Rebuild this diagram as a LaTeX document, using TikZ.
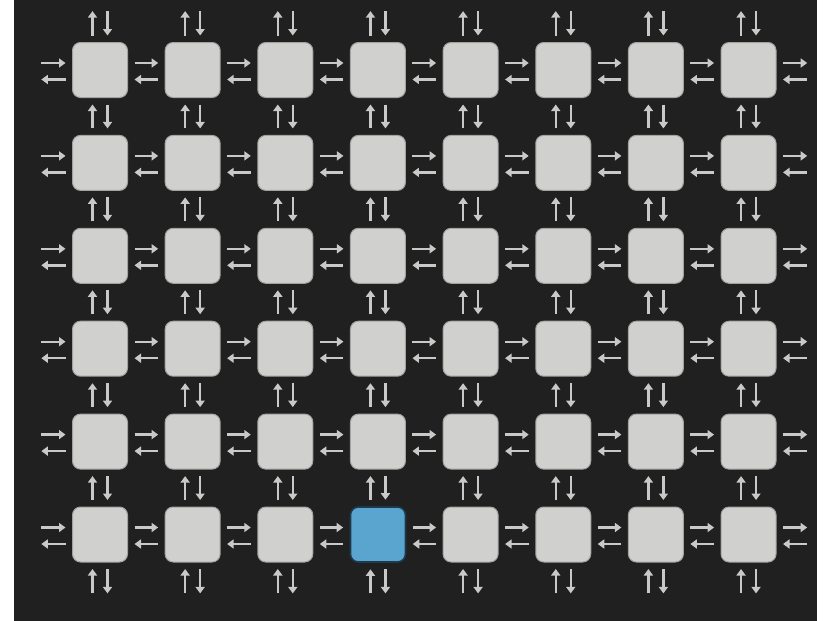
\documentclass[tikz,border=0pt]{standalone}
\usepackage{xcolor}
\usetikzlibrary{arrows.meta}
\definecolor{board}{HTML}{1F201F}
\definecolor{tilefill}{HTML}{D0D0CE}
\definecolor{tileedge}{HTML}{A2A2A0}
\definecolor{hotfill}{HTML}{5AA5D0}
\definecolor{hotedge}{HTML}{1E3A4E}
\definecolor{wire}{HTML}{C9C9C7}
\tikzset{
  % A router tile of the mesh
  tile/.style={
    draw=tileedge, fill=tilefill, line width=1pt, rounded corners=8pt,
    minimum width=55pt, minimum height=55pt, inner sep=0pt},
  % The highlighted tile
  hot/.style={tile, fill=hotfill, draw=hotedge, line width=1.6pt},
  % One direction of a link
  link/.style={-{Triangle[length=6.5pt, width=9pt]}, draw=wire, line width=2.4pt,
    shorten <=6.5pt, shorten >=6.5pt},
}

\begin{document}
\begin{tikzpicture}[x=1pt, y=-1pt]

  \useasboundingbox (0,0) rectangle (823,621);
  \fill[board] (14,0) rectangle (817,621);

  % tiles
  \foreach \i in {1,...,8} {
    \foreach \j in {1,...,6} {
      \ifnum\i\j=46 \def\kind{hot}\else\def\kind{tile}\fi
      \node[\kind] (c-\i-\j) at ({100+92.65*(\i-1)}, {70+92.9*(\j-1)}) {};
    }
  }

  % free ends at the border of the mesh
  \foreach \j in {1,...,6} {
    \coordinate (c-0-\j) at ({100-92.65+27.5}, {70+92.9*(\j-1)});
    \coordinate (c-9-\j) at ({100+92.65*8-27.5}, {70+92.9*(\j-1)});
  }
  \foreach \i in {1,...,8} {
    \coordinate (c-\i-0) at ({100+92.65*(\i-1)}, {70-92.9+27.5});
    \coordinate (c-\i-7) at ({100+92.65*(\i-1)}, {70+92.9*6-27.5});
  }

  % east / west links
  \foreach \i [evaluate=\i as \k using int(\i+1)] in {0,...,8} {
    \foreach \j in {1,...,6} {
      \draw[link] ([yshift=7pt]c-\i-\j.east) -- ([yshift=7pt]c-\k-\j.west);
      \draw[link] ([yshift=-9.5pt]c-\k-\j.west) -- ([yshift=-9.5pt]c-\i-\j.east);
    }
  }

  % north / south links
  \foreach \i in {1,...,8} {
    \foreach \j [evaluate=\j as \k using int(\j+1)] in {0,...,6} {
      \draw[link] ([xshift=-7.5pt]c-\i-\k.north) -- ([xshift=-7.5pt]c-\i-\j.south);
      \draw[link] ([xshift=7.5pt]c-\i-\j.south) -- ([xshift=7.5pt]c-\i-\k.north);
    }
  }

\end{tikzpicture}
\end{document}
